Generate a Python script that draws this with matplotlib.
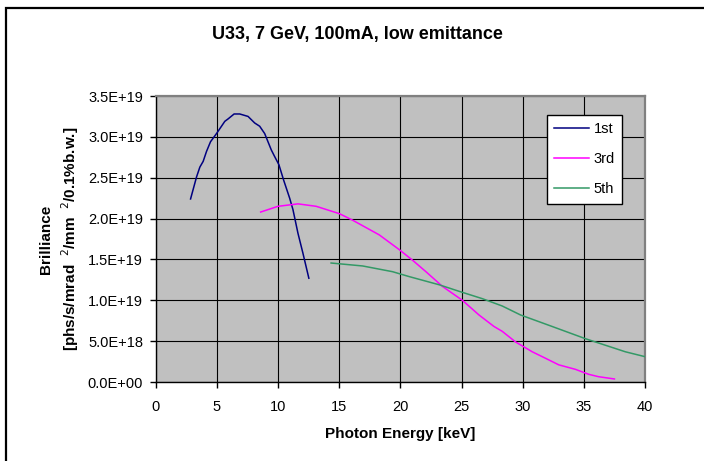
import matplotlib
matplotlib.use("Agg")
import matplotlib.pyplot as plt
from matplotlib.patches import Rectangle

plt.rcParams['font.family'] = ['Liberation Sans', 'DejaVu Sans']

title = "U33, 7 GeV, 100mA, low emittance"
xlabel = "Photon Energy [keV]"
ylabel = "Brilliance\n[phs/s/mrad  $^{2}$/mm  $^{2}$/0.1%b.w.]"

e1 = [2.85, 3.34, 3.61, 3.88, 4.15, 4.48, 4.97, 5.65, 5.92, 6.41, 6.87, 7.55,
      8.09, 8.50, 8.91, 9.45, 9.72, 10.07, 10.46, 10.95, 11.22, 11.63, 12.03, 12.52]
b1 = [2.24, 2.51, 2.63, 2.70, 2.82, 2.94, 3.04, 3.19, 3.22, 3.28, 3.28, 3.25,
      3.17, 3.13, 3.04, 2.84, 2.76, 2.66, 2.47, 2.25, 2.11, 1.82, 1.58, 1.27]

e3 = [8.58, 10.0, 11.63, 13.12, 15.02, 16.1, 18.28, 19.91, 21.0, 22.09, 23.44,
      25.07, 26.43, 27.65, 28.33, 29.42, 30.78, 31.87, 32.95, 34.31, 35.4, 36.2, 37.5]
b3 = [2.08, 2.15, 2.18, 2.15, 2.06, 1.98, 1.80, 1.62, 1.49, 1.35, 1.17,
      1.00, 0.82, 0.68, 0.62, 0.49, 0.37, 0.29, 0.21, 0.155, 0.094, 0.065, 0.037]

e5 = [14.34, 16.92, 19.36, 20.72, 23.17, 24.8, 26.7, 28.33, 29.83, 32.4, 35.13, 38.39, 40.0]
b5 = [1.456, 1.42, 1.35, 1.29, 1.19, 1.11, 1.02, 0.93, 0.82, 0.68, 0.53, 0.37, 0.31]

series_names = ["1st", "3rd", "5th"]
series_colors = ["#000080", "#FF00FF", "#339966"]

xticks = [0, 5, 10, 15, 20, 25, 30, 35, 40]
yticks = [0, 0.5e19, 1.0e19, 1.5e19, 2.0e19, 2.5e19, 3.0e19, 3.5e19]
ytick_labels = ["0.0E+00", "5.0E+18", "1.0E+19", "1.5E+19", "2.0E+19",
                "2.5E+19", "3.0E+19", "3.5E+19"]

W, H = 704, 461
fig = plt.figure(figsize=(W / 100, H / 100), dpi=100)
fig.patch.set_facecolor("white")

# outer chart border (extends past right/bottom edges)
fig.patches.append(Rectangle((6 / W, -0.05), 1.2, 1 - 8 / H + 0.05,
                             transform=fig.transFigure, fill=False,
                             edgecolor="black", linewidth=1.6))

left, right, top, bottom = 155.7, 645, 96, 382
ax = fig.add_axes([left / W, 1 - bottom / H, (right - left) / W, (bottom - top) / H])
ax.set_facecolor("#C0C0C0")

scale = 1e19
for e, b, name, c in zip([e1, e3, e5], [b1, b3, b5], series_names, series_colors):
    ax.plot(e, [v * scale for v in b], color=c, lw=1.1, label=name, zorder=3)

ax.set_xlim(0, 40)
ax.set_ylim(0, 3.5e19)
ax.set_xticks(xticks)
ax.set_yticks(yticks)
ax.set_yticklabels(ytick_labels)
ax.grid(True, color="black", lw=0.8, zorder=1)
ax.set_axisbelow(True)

for s in ["left", "bottom"]:
    ax.spines[s].set_color("black")
    ax.spines[s].set_linewidth(1.0)
for s in ["top", "right"]:
    ax.spines[s].set_color("#808080")
    ax.spines[s].set_linewidth(1.6)

ax.tick_params(axis="both", direction="out", length=4, width=1, colors="black",
               labelsize=10.5)
ax.tick_params(axis="x", pad=9)
ax.tick_params(axis="y", pad=5)

ax.set_xlabel(xlabel, fontsize=11, fontweight="bold", labelpad=9)
ax.set_ylabel(ylabel, fontsize=11, fontweight="bold", labelpad=5, linespacing=1.4)
fig.text(357 / W, 1 - 34 / H, title, ha="center", va="center", fontsize=13,
         fontweight="bold")

leg = ax.legend(loc="upper left", bbox_to_anchor=(0.80, 0.934), fontsize=10.5,
                frameon=True, fancybox=False, framealpha=1, edgecolor="black",
                handlelength=2.4, labelspacing=1.1, borderpad=0.5,
                handletextpad=0.3, borderaxespad=0)
leg.get_frame().set_linewidth(1.0)

fig.savefig("out.png", dpi=100, facecolor="white")
